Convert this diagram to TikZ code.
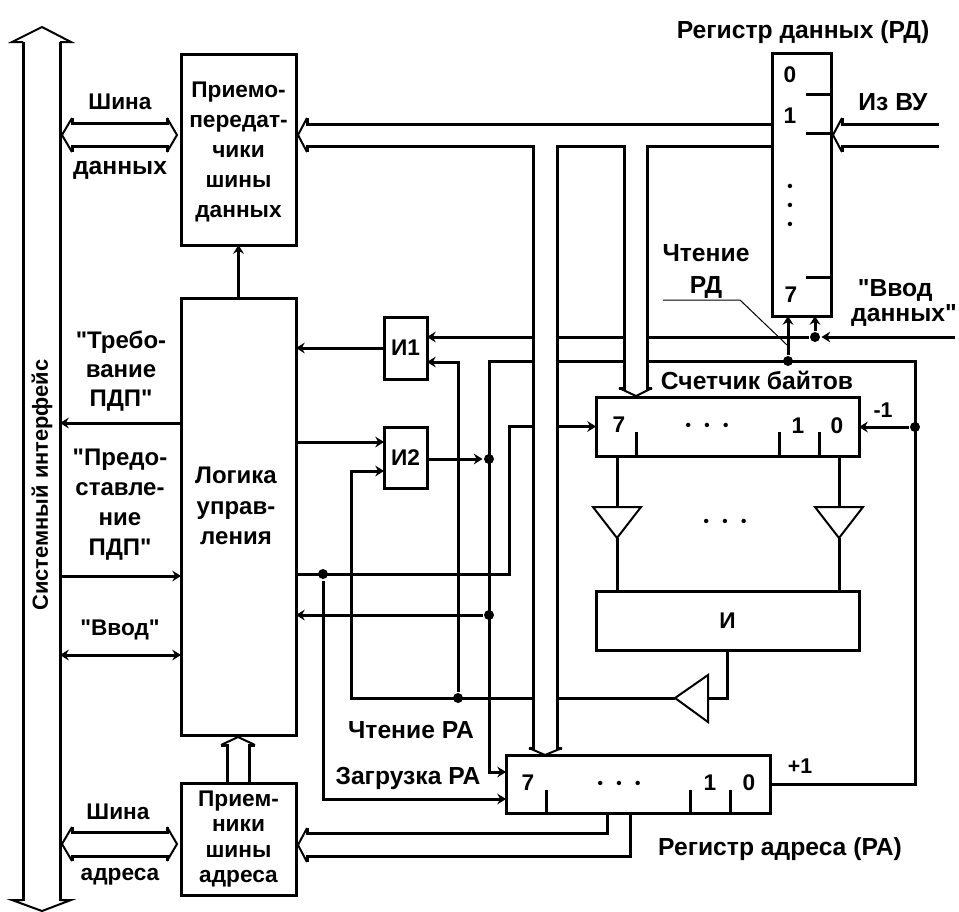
\documentclass[tikz,border=0pt]{standalone}
\usepackage{fontspec}
\setmainfont[Ligatures=TeXOff]{Liberation Sans}
\usetikzlibrary{arrows.meta}
\begin{document}
\begin{tikzpicture}[x=.75pt, y=-.75pt, line width=2.25pt, >={Stealth[length=6.5pt,width=8pt]},
    box/.style={draw, rectangle, outer sep=0pt, inner sep=0pt, align=center, font=\bfseries\fontsize{17}{22.5}\selectfont},
    lbl/.style={inner sep=0pt, align=center, font=\bfseries\fontsize{17}{22.5}\selectfont},
    wide/.style={inner sep=0pt, align=center, font=\bfseries\fontsize{18.5}{24}\selectfont},
    small/.style={inner sep=0pt, font=\bfseries\fontsize{16}{18}\selectfont},
    ticks/.style={inner sep=0pt, align=center, font=\bfseries\fontsize{11.5}{14.25}\selectfont},
    dot/.style={circle, fill, inner sep=0pt, minimum size=7.5pt},
    head/.style={line width=1.5pt},
    lead/.style={line width=.75pt}]
    \useasboundingbox (0,0) rectangle (959,911);

    \node[box, minimum width=86.25pt, minimum height=143.25pt, text depth=0pt] (trans) at (238.5,149.5) {Приемо-\\передат-\\чики\\шины\\данных};
    \node[box, minimum width=86.25pt, minimum height=327.75pt] (logic) at (238.5,516.5) {};
    \node[box, minimum width=86.25pt, minimum height=84pt, font=\bfseries\fontsize{17}{19}\selectfont] (recv) at (238.5,839) {Прием-\\ники\\шины\\адреса};
    \node[box, minimum width=44.25pt, minimum height=197.25pt] (rdreg) at (801.5,184.5) {};
    \node[box, minimum width=32.25pt, minimum height=46.5pt] (i1) at (405.5,348) {И1};
    \node[box, minimum width=32.25pt, minimum height=45.75pt] (i2) at (405.5,457.5) {И2};
    \node[box, minimum width=197.25pt, minimum height=44.25pt] (counter) at (727.5,426.5) {};
    \node[box, minimum width=197.25pt, minimum height=44.25pt] (andbox) at (727.5,620.5) {И};
    \node[box, minimum width=198pt, minimum height=43.5pt] (rareg) at (638,784) {};

    \node[dot] (jvvod) at (815,337) {};
    \node[dot] (jread) at (788,361) {};
    \node[dot] (jdec) at (915,427) {};
    \node[dot] (jand) at (489,459) {};
    \node[dot] (jback) at (489,615) {};
    \node[dot] (jload) at (323,574) {};
    \node[dot] (jrara) at (458,698) {};

    \coordinate (sysr) at (60,0);
    \coordinate (treb) at (181,423);
    \coordinate (pred) at (181,576);
    \coordinate (vvd) at (181,655);
    \coordinate (vvodend) at (955,337);
    \coordinate (raturn) at (915,361);
    \coordinate (raload) at (489,772);
    \coordinate (rawrite) at (506,799);
    \coordinate (cntin) at (509,426.5);
    \coordinate (i1a) at (427,337);
    \coordinate (i1b) at (427,362);
    \coordinate (i2a) at (384,442);
    \coordinate (i2b) at (384,471);
    \coordinate (i2turn) at (351,471);
    \coordinate (buftop) at (617,507);
    \coordinate (buftip) at (617,538);
    \coordinate (bufrtop) at (839,507);
    \coordinate (bufrtip) at (839,538);
    \coordinate (bufin) at (708,698);
    \coordinate (bufout) at (675,698);

    \draw[<-] (treb -| sysr) -- (treb);
    \draw[->] (pred -| sysr) -- (pred);
    \draw[<->] (vvd -| sysr) -- (vvd);
    \draw[->] (logic.north) -- (trans.south);
    \draw[->] (i1.west) -- (i1.west -| logic.east);
    \draw[->] (logic.east |- i2a) -- (i2a);
    \draw[->] (bufout) -| (i2turn) -- (i2b);
    \draw[->] (jrara) |- (i1b);
    \draw[->] (i2.east |- jand) -- (jand);
    \draw[->] (jback) -- (jback -| logic.east);
    \draw[->] (logic.east |- jload) -| (cntin) -- (counter.west);
    \draw[->] (jload) |- (rawrite);
    \draw[->] (rareg.east) -| (raturn) -| (raload) -- (raload -| rareg.west);
    \draw[->] (jdec) -- (counter.east |- jdec);
    \draw[->] (vvodend) -- (jvvod);
    \draw[->] (jvvod) -- (i1a);
    \draw[->] (jvvod) -- (jvvod |- rdreg.south);
    \draw[->] (jread) -- (jread |- rdreg.south);
    \draw (andbox.south) |- (bufin);

    \draw (buftop |- counter.south) -- (buftop);
    \draw (buftip) -- (buftip |- andbox.north);
    \draw (bufrtop |- counter.south) -- (bufrtop);
    \draw (bufrtip) -- (bufrtip |- andbox.north);
    \draw[head] (buftop) ++(-24,0) -- ++(48,0) -- (buftip) -- cycle;
    \draw[head] (bufrtop) ++(-24,0) -- ++(48,0) -- (bufrtip) -- cycle;
    \draw[head] (bufin) ++(0,-23) -- ++(0,47) -- (bufout) -- cycle;
    \draw[lead] (663,300) coordinate (leada) -- (740,300) coordinate (leadb) -- (787,345) coordinate (leadc);

    \draw (rdreg.east |- 0,94) -- ++(-25,0);
    \draw (rdreg.east |- 0,133) -- ++(-25,0);
    \draw (rdreg.east |- 0,277) -- ++(-25,0);
    \draw (counter.south -| 636,0) -- ++(0,-24);
    \draw (counter.south -| 779,0) -- ++(0,-24);
    \draw (counter.south -| 819,0) -- ++(0,-24);
    \draw (rareg.south -| 546,0) -- ++(0,-23);
    \draw (rareg.south -| 690,0) -- ++(0,-23);
    \draw (rareg.south -| 730,0) -- ++(0,-23);

    \coordinate (systop) at (42,27);
    \coordinate (sysbot) at (42,911);
    \draw (systop) ++(-19,15) -- ++(0,859);
    \draw (systop) ++(18,15) -- ++(0,859);
    \draw[head] (systop) ++(-19,15) -- ++(-11,0) -- (systop) -- ++(29,15) -- ++(-11,0);
    \draw[head] (sysbot) ++(-19,-11) -- ++(-11,0) -- (sysbot) -- ++(29,-11) -- ++(-11,0);

    \coordinate (dbl) at (62,135);
    \coordinate (dbr) at (177,135);
    \coordinate (abl) at (62,844);
    \coordinate (abr) at (177,844);
    \draw (dbl) ++(10,-17) -- ++(0,5) -- ++(95,0) -- ++(0,-5);
    \draw (dbl) ++(10,17) -- ++(0,-6) -- ++(95,0) -- ++(0,6);
    \draw[head] (dbl) ++(10,-17) -- ++(-10,17) -- ++(10,17);
    \draw[head] (dbr) ++(-10,-17) -- ++(10,17) -- ++(-10,17);
    \draw (abl) ++(10,-17) -- ++(0,5) -- ++(95,0) -- ++(0,-5);
    \draw (abl) ++(10,17) -- ++(0,-5) -- ++(95,0) -- ++(0,5);
    \draw[head] (abl) ++(10,-17) -- ++(-10,17) -- ++(10,17);
    \draw[head] (abr) ++(-10,-17) -- ++(10,17) -- ++(-10,17);

    \coordinate (tin) at (298,135);
    \coordinate (busup) at (772,124);
    \coordinate (buslow) at (772,146);
    \coordinate (rgl) at (533,146);
    \coordinate (rgr) at (557,748);
    \coordinate (cbl) at (624,146);
    \coordinate (cbr) at (647,388);
    \coordinate (rghd) at (545,755);
    \coordinate (cbhd) at (636,396);
    \fill[white] (rgl) rectangle (rgr);
    \fill[white] (cbl) rectangle (cbr);
    \draw (tin) ++(9,-17) -- ++(0,6) -- (busup);
    \draw (tin) ++(9,17) -- ++(0,-6) -- (rgl) -- (rgl |- rgr) -- ++(-4,0);
    \draw (rgr) ++(5,0) -- (rgr) -- (rgr |- rgl) -- (cbl) -- (cbl |- cbr) -- ++(-5,0);
    \draw (cbr) ++(5,0) -- (cbr) -- (cbr |- cbl) -- (buslow);
    \draw[head] (tin) ++(9,-17) -- ++(-9,17) -- ++(9,17);
    \draw[head] (rghd) ++(-16,-7) -- ++(16,7) -- ++(17,-7);
    \draw[head] (cbhd) ++(-17,-8) -- ++(17,8) -- ++(16,-8);

    \coordinate (vin) at (833,135);
    \coordinate (vuup) at (939,124);
    \coordinate (vulow) at (939,146);
    \draw (vin) ++(9,-17) -- ++(0,6) -- (vuup);
    \draw (vin) ++(9,17) -- ++(0,-6) -- (vulow);
    \draw[head] (vin) ++(9,-17) -- ++(-9,17) -- ++(9,17);

    \coordinate (oin) at (298,845);
    \coordinate (rau) at (607,833);
    \coordinate (rad) at (630,856);
    \draw (oin) ++(9,-17) -- ++(0,5) -- (rau) -- (rau |- rareg.south);
    \draw (oin) ++(9,17) -- ++(0,-6) -- (rad) -- (rad |- rareg.south);
    \draw[head] (oin) ++(9,-17) -- ++(-9,17) -- ++(9,17);

    \coordinate (lgin) at (238,737);
    \draw (recv.north -| 227,0) -- ++(0,-38) -- ++(-6,0);
    \draw (recv.north -| 249,0) -- ++(0,-38) -- ++(6,0);
    \draw[head] (lgin) ++(-17,8) -- ++(17,-8) -- ++(17,8);

    \node[lbl, rotate=90, font=\bfseries\fontsize{16.4}{20}\selectfont] (syslbl) at (42,485) {Системный интерфейс};
    \node[lbl] (shinad) at (120,102) {Шина};
    \node[lbl, font=\bfseries\fontsize{18.5}{22}\selectfont] (dann) at (120,170) {данных};
    \node[lbl] (shinaa) at (118,812) {Шина};
    \node[lbl] (adres) at (120,877) {адреса};
    \node[lbl, font=\bfseries\fontsize{18}{21.75}\selectfont] (trebo) at (121,371) {"Требо-\\вание\\ПДП"};
    \node[lbl, font=\bfseries\fontsize{18}{22.5}\selectfont] (predo) at (120,505) {"Предо-\\ставле-\\ние\\ПДП"};
    \node[lbl] (vvodl) at (120,630) {"Ввод"};
    \node[lbl, font=\bfseries\fontsize{18}{23}\selectfont] (lglbl) at (236,506) {Логика\\управ-\\ления};
    \node[wide] (rdname) at (803,32) {Регистр данных (РД)};
    \node[wide] (izvu) at (893,102) {Из ВУ};
    \node[wide] (rdread) at (706,271) {Чтение\\РД};
    \node[wide, align=left, font=\bfseries\fontsize{18.5}{18.75}\selectfont] (vvdan) at (904,303) {\hspace{5pt}"Ввод\\данных"};
    \node[wide] (cntname) at (757,380) {Счетчик байтов};
    \node[wide] (rdra) at (411,730) {Чтение РА};
    \node[wide] (zagr) at (408,778) {Загрузка РА};
    \node[wide] (raname) at (780,849) {Регистр адреса (РА)};

    \node[lbl] (rd0) at (790,75) {0};
    \node[lbl] (rd1) at (790,116) {1};
    \node[ticks] (rddots) at (790,207) {•\\•\\•};
    \node[lbl] (rd7) at (791,295) {7};
    \node[lbl] (cn7) at (619,425) {7};
    \node[lbl] (cn1) at (798,426) {1};
    \node[lbl] (cn0) at (837,426) {0};
    \node[ticks] (cndots) at (707,427) {•\hspace{10pt}•\hspace{10pt}•};
    \node[ticks] (bfdots) at (725,523) {•\hspace{10pt}•\hspace{10pt}•};
    \node[lbl] (ra7) at (528,783) {7};
    \node[lbl] (ra1) at (710,783) {1};
    \node[lbl] (ra0) at (749,783) {0};
    \node[ticks] (radots) at (619,785) {•\hspace{10pt}•\hspace{10pt}•};
    \node[small] (minus) at (883,410) {-1};
    \node[small] (plus) at (800,766) {+1};
\end{tikzpicture}
\end{document}
